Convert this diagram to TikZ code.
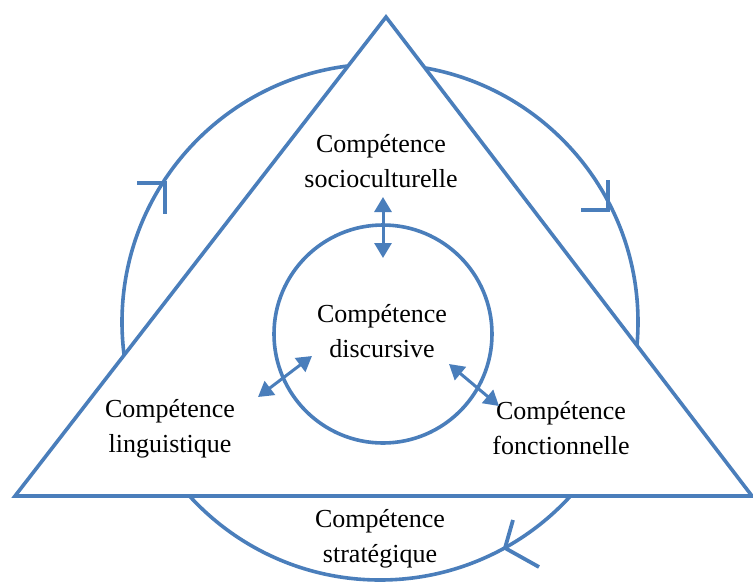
\documentclass[tikz,border=0pt]{standalone}
\usepackage{fontspec}
\setmainfont{Liberation Serif}
\usetikzlibrary{arrows.meta}
\definecolor{lineblue}{RGB}{74,126,187}
\begin{document}
\begin{tikzpicture}[x=1pt,y=-1pt,
  bl/.style={draw=lineblue,line width=3.6pt},
  mk/.style={draw=lineblue,line width=3.8pt,line cap=butt,line join=miter},
  lbl/.style={font=\fontsize{26}{35}\selectfont,align=center,inner sep=0pt,text=black},
  dbl/.style={draw=lineblue,line width=3pt,{Triangle[length=15pt,width=17pt]}-{Triangle[length=15pt,width=17pt]}}
]
\useasboundingbox (0,0) rectangle (753,587);
% outer cycle circle
\coordinate (oc) at (380,322);
\draw[bl] (oc) circle (258);
% triangle
\coordinate (ta) at (386,17);
\coordinate (tl) at (15,496);
\coordinate (tr) at (752,496);
\draw[bl,fill=white,line join=miter] (ta) -- (tl) -- (tr) -- cycle;
% cycle marks (clockwise on screen)
\coordinate (m1) at (165,183);
\draw[mk] (137,183) -- (m1) -- (165,214);
\coordinate (m2) at (608,210);
\draw[mk] (608,180) -- (m2) -- (581,210);
\coordinate (m3) at (505,548);
\draw[mk] (513,520) -- (m3) -- (539,567);
% inner circle
\draw[bl] (383,334) circle (109);
% labels
\node[lbl] (soc) at (381,161) {Compétence\\socioculturelle};
\node[lbl] (dis) at (382,331) {Compétence\\discursive};
\node[lbl] (lin) at (170,429) {Compétence\\linguistique};
\node[lbl] (fon) at (561,428) {Compétence\\fonctionnelle};
\node[lbl] (str) at (380,539) {Compétence\\stratégique};
% double arrows
\coordinate (a1) at (383,197);
\coordinate (a2) at (383,258);
\draw[dbl] (a1) -- (a2);
\coordinate (b1) at (258,397);
\coordinate (b2) at (312,356);
\draw[dbl] (b1) -- (b2);
\coordinate (c1) at (449,364);
\coordinate (c2) at (499,406);
\draw[dbl] (c1) -- (c2);
\end{tikzpicture}
\end{document}
